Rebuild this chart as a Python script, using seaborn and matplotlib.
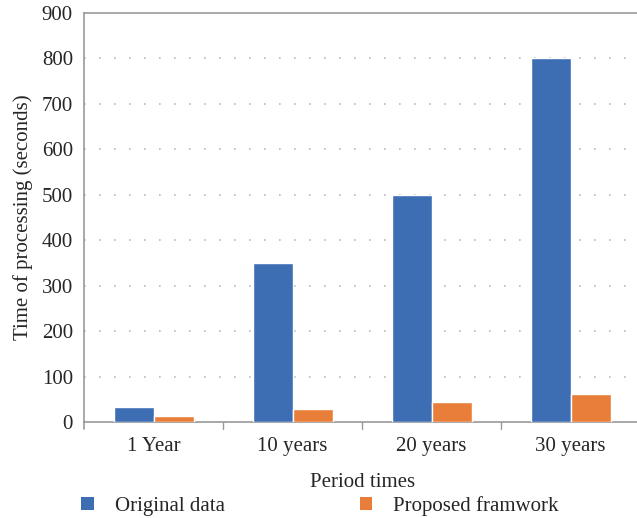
import matplotlib
matplotlib.use("Agg")
import matplotlib.pyplot as plt
import seaborn as sns
import pandas as pd
from matplotlib.patches import Patch

periods = ["1 Year", "10 years", "20 years", "30 years"]
original_data = [34, 350, 500, 800]
proposed_framework = [14, 29, 45, 62]
series_names = ["Original data", "Proposed framwork"]
yticks = [0, 100, 200, 300, 400, 500, 600, 700, 800, 900]

colors = ["#3d6eb4", "#e97e3b"]

df = pd.DataFrame({
    "period": periods * 2,
    "value": original_data + proposed_framework,
    "series": [series_names[0]] * len(periods) + [series_names[1]] * len(periods),
})

sns.set_style("white")
plt.rcParams["font.family"] = ["Liberation Serif", "DejaVu Serif"]
FS = 15

fig = plt.figure(figsize=(6.37, 5.18), dpi=100)
ax = fig.add_axes([0.132, 0.185, 0.873, 0.790])

sns.barplot(data=df, x="period", y="value", hue="series", order=periods,
            hue_order=series_names, palette=colors, width=0.576, gap=0,
            saturation=1, legend=False, ax=ax, zorder=3)

ax.set_xlim(-0.5, len(periods) - 0.5)
ax.set_ylim(0, 900)
ax.set_yticks(yticks)
ax.tick_params(axis="y", labelsize=FS, length=3, color="#999999", pad=5, direction="out")
ax.tick_params(axis="x", labelsize=FS, length=0, pad=11)

# dotted gridlines for interior y ticks
for y in yticks[1:-1]:
    ax.axhline(y, color="#b8b8b8", linestyle=(0, (1, 8)), linewidth=1.2, zorder=1)

# category separators on the x axis
for b in range(1, len(periods)):
    ax.plot([b - 0.5, b - 0.5], [0, -0.016], transform=ax.get_xaxis_transform(),
            color="#999999", linewidth=1, clip_on=False)

for side in ["left", "bottom", "top"]:
    ax.spines[side].set_color("#999999")
    ax.spines[side].set_linewidth(1.2)
ax.spines["right"].set_visible(False)
ax.plot([0, 0], [0, -0.016], transform=ax.transAxes, color="#999999",
        linewidth=1.2, clip_on=False)

ax.set_xlabel("Period times", fontsize=FS, labelpad=12)
ax.set_ylabel("Time of processing (seconds)", fontsize=FS, labelpad=6)

handles = [Patch(facecolor=c, edgecolor="none") for c in colors]
fig.legend(handles, series_names, loc="lower left", bbox_to_anchor=(0.098, -0.032),
           ncol=2, frameon=False, fontsize=FS, handlelength=0.6, handleheight=0.6,
           columnspacing=6.5, handletextpad=1.0)

fig.savefig("out.png", dpi=100, facecolor="white")
